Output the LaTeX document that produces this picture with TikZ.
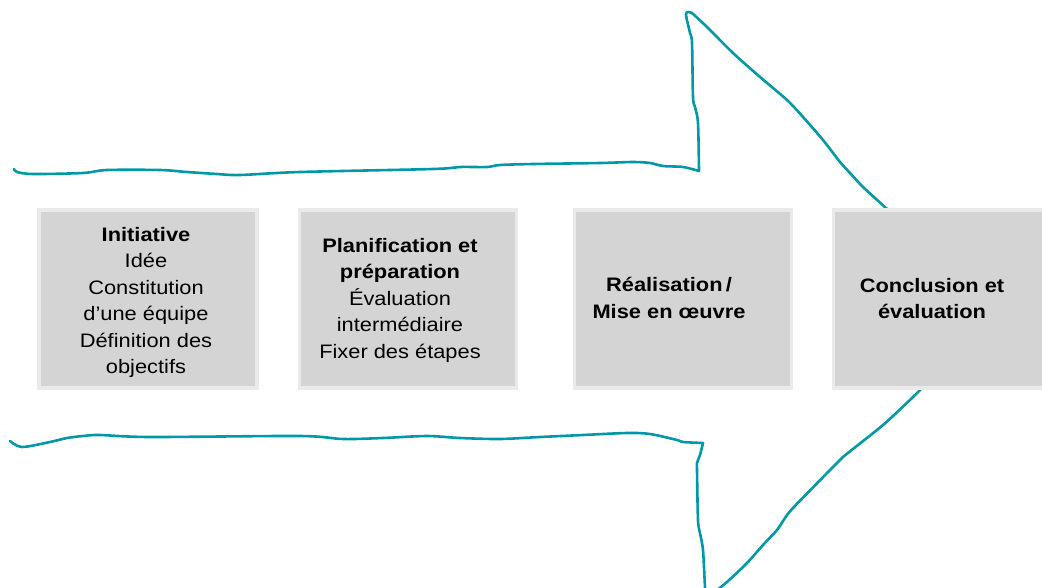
\documentclass[tikz,border=0pt]{standalone}
\usepackage{fontspec}
\setmainfont{Liberation Sans}[FakeStretch=1.12]
\definecolor{arrowteal}{RGB}{0,152,166}
\definecolor{boxfill}{RGB}{212,212,212}
\definecolor{boxedge}{RGB}{234,234,234}
\tikzset{
  arrowline/.style={draw=arrowteal, line width=2.6pt, line join=round, line cap=round},
  stagebox/.style={rectangle, fill=boxfill, draw=boxedge, line width=3.5pt, inner sep=0pt, minimum height=178pt},
  stagetext/.style={align=center, inner sep=0pt, anchor=north, font=\fontsize{19.5}{26.5}\selectfont},
}
\begin{document}
\begin{tikzpicture}[x=1pt,y=-1pt]
\useasboundingbox (0,0) rectangle (1042,587);
\clip (0,0) rectangle (1042,587);
% arrow outline
\draw[arrowline] plot[smooth, tension=0.5] coordinates {(14,169) (17,172) (33,174) (83,173) (107,170) (160,170) (187,172) (217,174) (240,175) (300,172) (433,169) (460,167) (487,167) (500,165) (533,164) (600,163) (633,162) (650,163) (663,166) (683,167) (699,171)}
  -- plot[smooth, tension=0.5] coordinates {(699,171) (698,123) (695,107) (693,97) (692,43) (690,33) (686,15) (688,12) (692,13)}
  -- plot[smooth, tension=0.5] coordinates {(692,13) (707,27) (733,53) (760,77) (787,100) (803,117) (823,140) (840,162) (850,173) (863,187) (887,209) (900,222)};
\draw[arrowline] plot[smooth, tension=0.5] coordinates {(925,385) (913,397) (883,425) (843,457) (830,470) (793,508) (785,518) (777,530) (763,545) (747,563) (727,582) (717,590)}
  -- (707,592)
  -- plot[smooth, tension=0.5] coordinates {(706,592) (705,587) (703,550) (700,533) (698,520) (697,470) (697,463) (700,455) (703,443)}
  -- plot[smooth, tension=0.5] coordinates {(703,443) (683,442) (677,440) (650,434) (627,433) (583,435) (540,437) (500,439) (460,438) (427,436) (383,438) (343,439) (300,436) (150,437) (100,435) (83,436) (67,438) (50,442) (22,447) (10,441)};
% stage boxes
\node[stagebox, minimum width=218pt] (b1) at (148,299) {};
\node[stagebox, minimum width=217pt] (b2) at (408,299) {};
\node[stagebox, minimum width=217pt] (b3) at (683,299) {};
\node[stagebox, minimum width=225pt] (b4) at (946,299) {};
% texts
\node[stagetext] (t1) at (146,227) {\textbf{Initiative}\\Idée\\Constitution\\d’une équipe\\Définition des\\objectifs};
\node[stagetext] (t2) at (400,238) {\textbf{Planification et}\\\textbf{préparation}\\Évaluation\\intermédiaire\\Fixer des étapes};
\node[stagetext] (t3) at (669,277) {\textbf{Réalisation\,/}\\\textbf{Mise en œuvre}};
\node[stagetext] (t4) at (932,278) {\textbf{Conclusion et}\\\textbf{évaluation}};
\end{tikzpicture}
\end{document}
